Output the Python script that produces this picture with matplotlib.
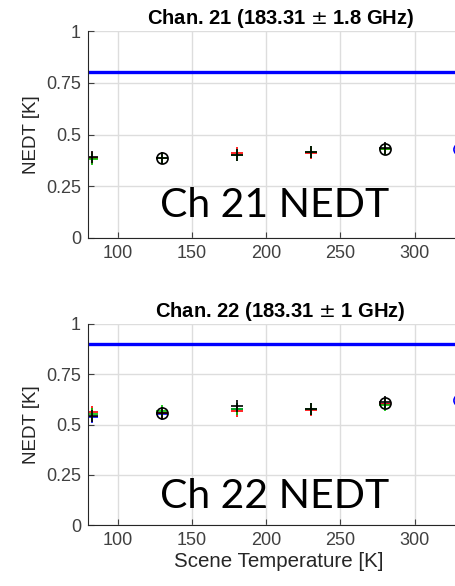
import matplotlib.pyplot as plt

temps = [83, 130, 180, 230, 280, 330]

# Chan. 21
ch21_red = [0.385, 0.385, 0.41, 0.41, 0.43, None]
ch21_green = [0.38, 0.385, 0.40, 0.415, 0.43, None]
ch21_black = [0.39, 0.385, 0.40, 0.415, 0.435, None]
ch21_circ_black = [None, 0.385, None, None, 0.43, None]
ch21_circ_blue = [None, None, None, None, None, 0.43]
ch21_spec = 0.8

# Chan. 22
ch22_red = [0.56, 0.555, 0.565, 0.57, 0.60, None]
ch22_green = [0.55, 0.565, 0.575, 0.575, 0.595, None]
ch22_black = [0.54, 0.555, 0.59, 0.575, 0.61, None]
ch22_blue = [0.535, 0.55, 0.575, 0.575, 0.60, None]
ch22_circ_black = [None, 0.555, None, None, 0.605, None]
ch22_circ_blue = [None, None, None, None, None, 0.62]
ch22_spec = 0.9

titles = ["Chan. 21 (183.31 $\\pm$ 1.8 GHz)", "Chan. 22 (183.31 $\\pm$ 1 GHz)"]
labels = ["Ch 21 NEDT", "Ch 22 NEDT"]

fig = plt.figure(figsize=(4.56, 5.86), dpi=100)
plt.rcParams['font.family'] = ['Liberation Sans', 'DejaVu Sans']
plt.rcParams['mathtext.fontset'] = 'custom'

ax1 = fig.add_axes([88 / 456, 1 - 238 / 586, 401 / 456, 207 / 586])
ax2 = fig.add_axes([88 / 456, 1 - 525 / 586, 401 / 456, 201 / 586])


def pts(xs, ys):
    return [x for x, y in zip(xs, ys) if y is not None], [y for y in ys if y is not None]


def style(ax, title, label, spec, ty):
    ax.axhline(spec, color="#0000ff", lw=2.4)
    ax.set_xlim(80, 350)
    ax.set_ylim(0, 1)
    ax.set_xticks([100, 150, 200, 250, 300])
    ax.set_yticks([0, 0.25, 0.5, 0.75, 1])
    ax.set_yticklabels(["0", "0.25", "0.5", "0.75", "1"])
    ax.grid(True, color="#dddddd", lw=1)
    ax.set_axisbelow(True)
    for s in ["top", "right"]:
        ax.spines[s].set_visible(False)
    ax.spines["left"].set_color("#262626")
    ax.spines["bottom"].set_color("#262626")
    ax.tick_params(labelsize=13, colors="#404040", direction="in", length=4, pad=5)
    ax.set_title(title, fontsize=14.5, fontweight="bold", pad=5, x=0.48)
    ax.set_ylabel("NEDT [K]", fontsize=13.5, color="#262626", labelpad=4)
    ax.text(0.466, ty, label, transform=ax.transAxes, fontsize=29.5,
            family="Lato", ha="center", va="center", color="black")


style(ax1, titles[0], labels[0], ch21_spec, 0.155)
style(ax2, titles[1], labels[1], ch22_spec, 0.14)

ms = 9
for c, ys in [("red", ch21_red), ("#00c000", ch21_green), ("black", ch21_black)]:
    ax1.plot(*pts(temps, ys), "+", color=c, ms=ms, mew=1.2, ls="none")
ax1.plot(*pts(temps, ch21_circ_black), "o", mfc="none", mec="black", ms=8, mew=1.2)
ax1.plot(*pts(temps, ch21_circ_blue), "o", mfc="none", mec="blue", ms=8, mew=1.2, clip_on=False)

for c, ys in [("blue", ch22_blue), ("red", ch22_red), ("#00c000", ch22_green), ("black", ch22_black)]:
    ax2.plot(*pts(temps, ys), "+", color=c, ms=ms, mew=1.2, ls="none")
ax2.plot(*pts(temps, ch22_circ_black), "o", mfc="none", mec="black", ms=8, mew=1.2)
ax2.plot(*pts(temps, ch22_circ_blue), "o", mfc="none", mec="blue", ms=8, mew=1.2, clip_on=False)

ax2.set_xlabel("Scene Temperature [K]", fontsize=14.8, color="#262626", x=0.475, labelpad=2)

fig.savefig("out.png", dpi=100)
